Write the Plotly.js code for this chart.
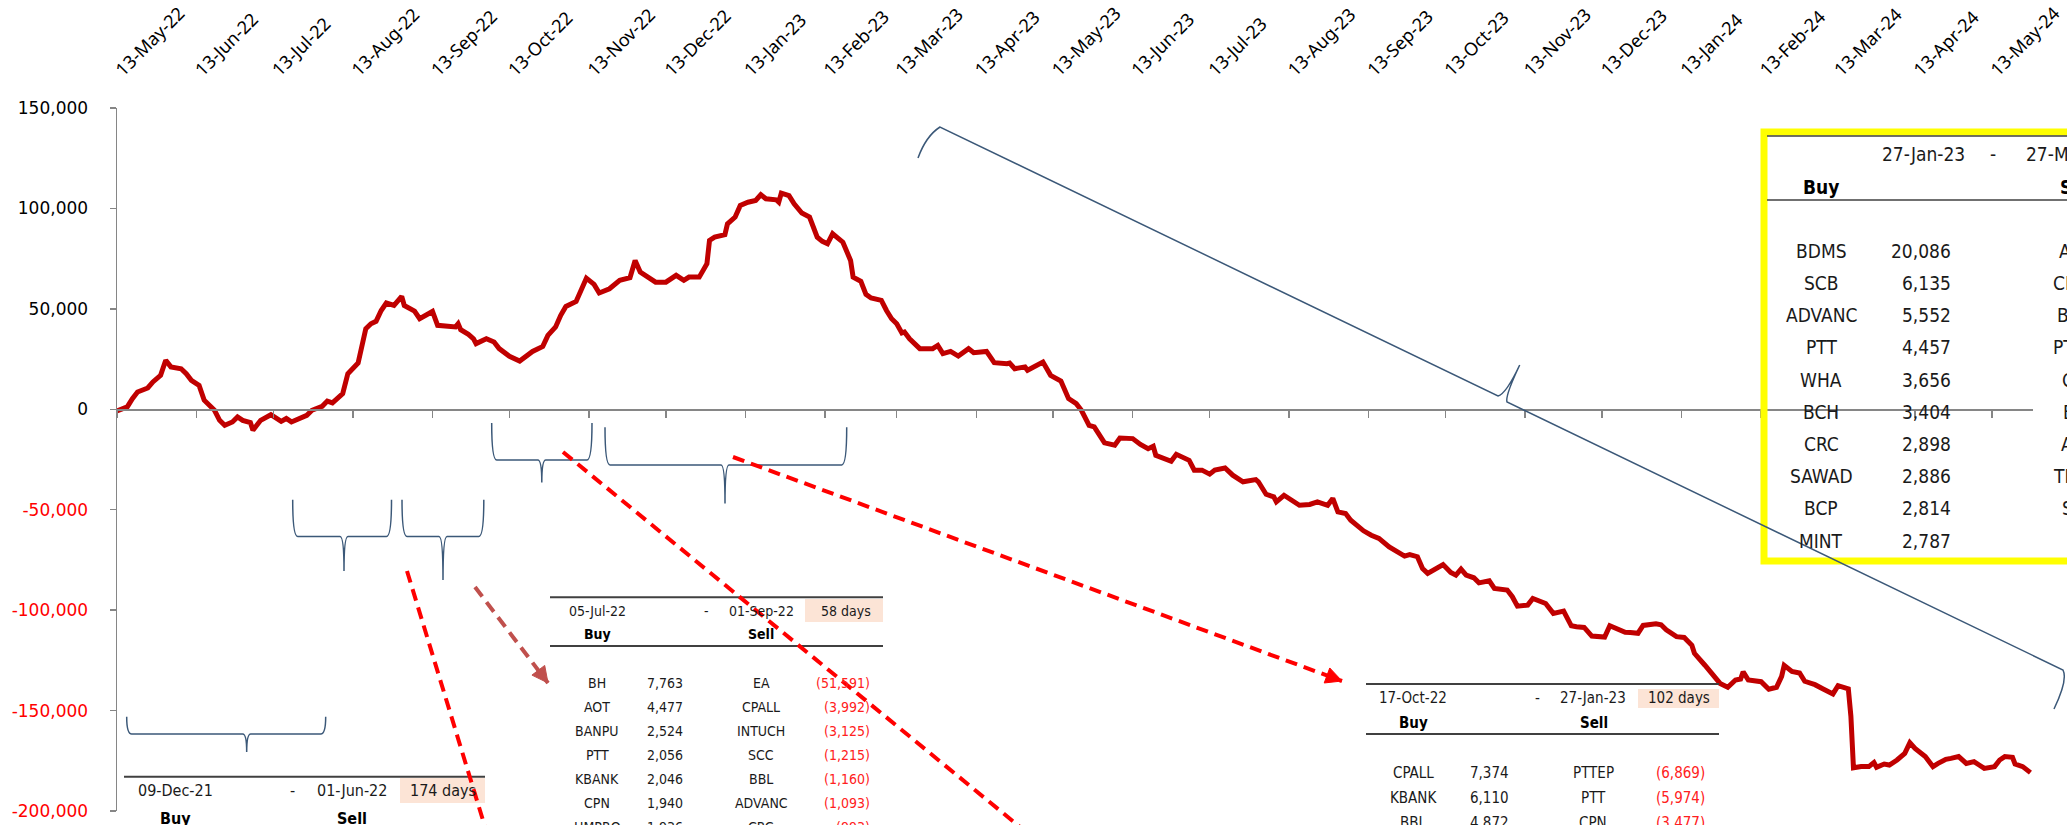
<!DOCTYPE html>
<html>
<head>
<meta charset="utf-8">
<script src="https://cdn.plot.ly/plotly-3.0.1.min.js"></script>
<style>html,body{margin:0;padding:0;background:#fff;}#chart{width:2067px;height:825px;}</style>
</head>
<body>
<div id="chart"></div>
<script>
// ---------------- DATA ----------------
const dates = ["2022-05-13","2022-05-17","2022-05-19","2022-05-21","2022-05-25","2022-05-27","2022-05-30","2022-06-01","2022-06-03","2022-06-07","2022-06-09","2022-06-11","2022-06-14","2022-06-16","2022-06-20","2022-06-22","2022-06-24","2022-06-27","2022-06-29","2022-07-01","2022-07-04","2022-07-05","2022-07-08","2022-07-12","2022-07-16","2022-07-18","2022-07-20","2022-07-22","2022-07-26","2022-07-28","2022-08-01","2022-08-03","2022-08-05","2022-08-09","2022-08-11","2022-08-15","2022-08-18","2022-08-20","2022-08-22","2022-08-24","2022-08-26","2022-08-29","2022-09-01","2022-09-02","2022-09-06","2022-09-08","2022-09-13","2022-09-15","2022-09-22","2022-09-23","2022-09-24","2022-09-27","2022-09-29","2022-09-30","2022-10-04","2022-10-07","2022-10-09","2022-10-13","2022-10-17","2022-10-22","2022-10-26","2022-10-28","2022-10-31","2022-11-02","2022-11-04","2022-11-08","2022-11-10","2022-11-12","2022-11-15","2022-11-17","2022-11-21","2022-11-25","2022-11-29","2022-12-01","2022-12-03","2022-12-07","2022-12-09","2022-12-13","2022-12-17","2022-12-20","2022-12-22","2022-12-26","2022-12-29","2022-12-30","2023-01-01","2023-01-05","2023-01-06","2023-01-09","2023-01-11","2023-01-14","2023-01-17","2023-01-19","2023-01-21","2023-01-25","2023-01-26","2023-01-27","2023-01-30","2023-02-01","2023-02-04","2023-02-07","2023-02-10","2023-02-12","2023-02-14","2023-02-16","2023-02-20","2023-02-23","2023-02-24","2023-02-27","2023-03-01","2023-03-03","2023-03-07","2023-03-09","2023-03-11","2023-03-13","2023-03-15","2023-03-16","2023-03-18","2023-03-22","2023-03-27","2023-03-29","2023-03-31","2023-04-03","2023-04-06","2023-04-10","2023-04-12","2023-04-17","2023-04-20","2023-04-25","2023-04-26","2023-04-28","2023-05-02","2023-05-03","2023-05-09","2023-05-12","2023-05-16","2023-05-19","2023-05-22","2023-05-24","2023-05-27","2023-05-29","2023-06-02","2023-06-06","2023-06-08","2023-06-13","2023-06-16","2023-06-19","2023-06-21","2023-06-22","2023-06-25","2023-06-28","2023-06-30","2023-07-05","2023-07-07","2023-07-10","2023-07-13","2023-07-15","2023-07-19","2023-07-22","2023-07-26","2023-07-31","2023-08-01","2023-08-04","2023-08-07","2023-08-08","2023-08-11","2023-08-15","2023-08-17","2023-08-21","2023-08-24","2023-08-28","2023-08-30","2023-09-01","2023-09-04","2023-09-06","2023-09-11","2023-09-14","2023-09-17","2023-09-21","2023-09-25","2023-09-27","2023-09-29","2023-10-02","2023-10-04","2023-10-06","2023-10-12","2023-10-15","2023-10-17","2023-10-19","2023-10-21","2023-10-24","2023-10-26","2023-10-30","2023-11-01","2023-11-06","2023-11-08","2023-11-10","2023-11-14","2023-11-16","2023-11-21","2023-11-24","2023-11-28","2023-12-01","2023-12-03","2023-12-06","2023-12-09","2023-12-14","2023-12-16","2023-12-19","2023-12-22","2023-12-24","2023-12-27","2023-12-29","2024-01-03","2024-01-05","2024-01-07","2024-01-11","2024-01-14","2024-01-17","2024-01-18","2024-01-22","2024-01-26","2024-01-28","2024-01-31","2024-02-03","2024-02-05","2024-02-06","2024-02-08","2024-02-13","2024-02-16","2024-02-19","2024-02-21","2024-02-22","2024-02-25","2024-02-28","2024-03-01","2024-03-05","2024-03-08","2024-03-12","2024-03-14","2024-03-16","2024-03-18","2024-03-19","2024-03-20","2024-03-23","2024-03-26","2024-03-28","2024-03-29","2024-04-01","2024-04-03","2024-04-06","2024-04-09","2024-04-11","2024-04-13","2024-04-17","2024-04-20","2024-04-22","2024-04-25","2024-04-27","2024-04-30","2024-05-03","2024-05-06","2024-05-08","2024-05-10","2024-05-14","2024-05-16","2024-05-18","2024-05-21","2024-05-22","2024-05-25","2024-05-28"];
const netValues = [-800,1200,5300,8600,10600,13600,16900,24400,21100,20200,17700,14400,11900,4500,-500,-5500,-8000,-6300,-3800,-5500,-6600,-10400,-5500,-2700,-6000,-4600,-6300,-5000,-3000,-500,1500,4100,3200,7800,17700,23000,40100,42600,43800,49200,52900,51700,56200,51700,48900,45100,48700,41800,41000,42600,39600,37300,35100,32700,35100,33500,30200,26400,24000,28800,31300,36800,41000,46800,51200,53700,59200,65300,62200,57900,60000,64200,65500,74100,68300,65000,63300,63300,66700,64200,65800,65800,72500,84100,85700,86900,92300,95700,101500,103100,104000,106800,104800,104300,103100,107600,106400,102300,97700,95700,85700,83600,82400,87400,83200,74100,65800,63700,57200,55400,54200,49200,45100,42600,38000,38500,35100,30200,30200,31800,27700,28800,26500,30200,28200,28800,23200,22700,23000,20200,21100,19400,23500,16900,14100,5300,2800,-500,-8000,-8800,-16700,-17900,-14300,-14600,-17500,-19600,-18400,-22900,-24200,-25900,-22400,-25400,-30300,-30300,-32300,-30300,-29200,-32800,-36100,-35000,-36100,-42300,-43600,-46100,-42800,-46600,-47800,-47400,-46100,-47800,-44400,-51100,-51900,-55200,-60500,-62700,-64300,-68500,-71800,-73100,-72300,-73400,-79300,-81700,-77300,-81200,-82600,-79600,-82600,-83900,-86400,-85400,-89200,-90000,-93300,-98000,-97500,-94200,-96700,-101600,-100500,-107800,-108300,-108600,-112900,-113400,-107800,-109600,-111000,-111100,-111500,-107600,-106800,-107300,-109800,-113200,-113600,-117500,-121500,-127300,-134000,-136500,-138400,-134800,-134300,-130700,-134800,-135600,-139400,-138400,-133000,-127500,-130500,-131300,-135400,-137100,-139100,-141700,-137600,-138200,-139200,-152800,-178500,-177900,-177900,-175900,-178200,-176600,-177100,-174600,-171300,-166000,-168800,-172900,-177900,-176300,-174300,-173800,-172900,-176300,-175400,-177100,-178800,-177900,-174600,-172900,-173300,-176600,-177900,-180900];

const yTickVals = [-200000,-150000,-100000,-50000,0,50000,100000,150000];

// Table 1 (09-Dec-21 - 01-Jun-22)
const t1Header = ["09-Dec-21","-","01-Jun-22","174 days"];
// Table 2 (05-Jul-22 - 01-Sep-22)
const t2Header = ["05-Jul-22","-","01-Sep-22","58 days"];
const t2BuyNames = ["BH","AOT","BANPU","PTT","KBANK","CPN","HMPRO"];
const t2BuyVals = [7763,4477,2524,2056,2046,1940,1936];
const t2SellNames = ["EA","CPALL","INTUCH","SCC","BBL","ADVANC","CRC"];
const t2SellVals = [-51591,-3992,-3125,-1215,-1160,-1093,-993];
// Table 3 (17-Oct-22 - 27-Jan-23)
const t3Header = ["17-Oct-22","-","27-Jan-23","102 days"];
const t3BuyNames = ["CPALL","KBANK","BBL"];
const t3BuyVals = [7374,6110,4872];
const t3SellNames = ["PTTEP","PTT","CPN"];
const t3SellVals = [-6869,-5974,-3477];
// Table 4 (27-Jan-23 - 27-Mar-23)
const t4Header = ["27-Jan-23","-","27-Mar-23"];
const t4BuyNames = ["BDMS","SCB","ADVANC","PTT","WHA","BCH","CRC","SAWAD","BCP","MINT"];
const t4BuyVals = [20086,6135,5552,4457,3656,3404,2898,2886,2814,2787];
const t4SellNames = ["AWC","CPALL","BSRC","PTTEP","CPN","BBL","AOT","TISCO","SCC","IVL"];

// ---------------- GEOMETRY HELPERS (overlay decorations) ----------------
const W = 2067, H = 825;
const mL = 117, mR = 34, mT = 108, mB = 14;
const PW = W - mL - mR, PH = H - mT - mB;
const P = x => (x - mL) / PW;
const Q = y => (H - mB - y) / PH;
const pt = (x, y) => P(x).toFixed(5) + ',' + Q(y).toFixed(5);

const fmt = v => Math.abs(v).toLocaleString('en-US');
const fmtNeg = v => v < 0 ? '(' + fmt(v) + ')' : fmt(v);
const FT = 'Tahoma, "DejaVu Sans Condensed", "DejaVu Sans", sans-serif';

const annotations = [];
const shapes = [];
function T(x, y, text, size, anchor, color, bold) {
  annotations.push({xref:'paper', yref:'paper', x:P(x), y:Q(y), text: bold ? '<b>' + text + '</b>' : text,
    showarrow:false, xanchor:anchor, yanchor:'middle', borderpad:0,
    font:{family:FT, size:size, color:color || '#1a1a1a'}});
}
function hline(x0, x1, y, w, c) {
  shapes.push({type:'line', xref:'paper', yref:'paper', x0:P(x0), x1:P(x1), y0:Q(y), y1:Q(y), line:{color:c || '#404040', width:w || 1.5}});
}
function rect(x0, y0, x1, y1, fill, lc, lw) {
  shapes.push({type:'rect', xref:'paper', yref:'paper', x0:P(x0), x1:P(x1), y0:Q(y0), y1:Q(y1), fillcolor:fill || 'rgba(0,0,0,0)', line:{color:lc || 'rgba(0,0,0,0)', width:lw || 0}, layer:'below'});
}
const BR = '#3B5878';
function brace(x1, x2, yTop, yMid, tipX, tipY) {
  const r = 5, s = 4;
  const d = 'M' + pt(x1, yTop) + ' Q' + pt(x1, yMid) + ' ' + pt(x1 + r, yMid) +
    ' L' + pt(tipX - s, yMid) + ' Q' + pt(tipX, yMid) + ' ' + pt(tipX, tipY) +
    ' Q' + pt(tipX, yMid) + ' ' + pt(tipX + s, yMid) +
    ' L' + pt(x2 - r, yMid) + ' Q' + pt(x2, yMid) + ' ' + pt(x2, yTop);
  shapes.push({type:'path', xref:'paper', yref:'paper', path:d, line:{color:BR, width:1.5}});
}
function dashed(x0, y0, x1, y1, color, head) {
  shapes.push({type:'line', xref:'paper', yref:'paper', x0:P(x0), y0:Q(y0), x1:P(x1), y1:Q(y1), line:{color:color, width:4, dash:'12px,7px'}});
  if (head) {
    const dx = x1 - x0, dy = y1 - y0, L = Math.hypot(dx, dy), ux = dx / L, uy = dy / L;
    const hl = 16, hw = 8;
    const bx = x1 - ux * hl, by = y1 - uy * hl;
    const d = 'M' + pt(x1, y1) + ' L' + pt(bx - uy * hw, by + ux * hw) + ' L' + pt(bx + uy * hw, by - ux * hw) + ' Z';
    shapes.push({type:'path', xref:'paper', yref:'paper', path:d, fillcolor:color, line:{color:color, width:1}});
  }
}

// ---- Table 1 ----
rect(400, 778, 485, 803, '#FCE4D6');
hline(124, 485, 776.7, 2);
T(175, 790, t1Header[0], 16, 'center');
T(292, 790, t1Header[1], 16, 'center');
T(352, 790, t1Header[2], 16, 'center');
T(443, 790, t1Header[3], 16, 'center');
T(175, 818, 'Buy', 16, 'center', '#000', true);
T(352, 818, 'Sell', 16, 'center', '#000', true);

// ---- Table 2 ----
rect(805, 599, 883, 622, '#FCE4D6');
hline(550, 883, 597.3, 2);
hline(550, 883, 646, 2);
T(597, 611, t2Header[0], 14, 'center');
T(706, 611, t2Header[1], 14, 'center');
T(761, 611, t2Header[2], 14, 'center');
T(846, 611, t2Header[3], 14, 'center');
T(597, 634, 'Buy', 14, 'center', '#000', true);
T(761, 634, 'Sell', 14, 'center', '#000', true);
t2BuyNames.forEach((n, i) => {
  const y = 683.3 + i * 23.9;
  T(597, y, n, 14, 'center');
  T(684, y, fmt(t2BuyVals[i]), 14, 'right');
  T(761, y, t2SellNames[i], 14, 'center');
  T(871, y, fmtNeg(t2SellVals[i]), 14, 'right', '#FF2020');
});

// ---- Table 3 ----
rect(1638, 689, 1719, 708, '#FCE4D6');
hline(1366, 1719, 684, 2);
hline(1366, 1719, 734, 2);
T(1413, 698, t3Header[0], 15, 'center');
T(1537, 698, t3Header[1], 15, 'center');
T(1593, 698, t3Header[2], 15, 'center');
T(1679, 698, t3Header[3], 15, 'center');
T(1413, 723, 'Buy', 15, 'center', '#000', true);
T(1594, 723, 'Sell', 15, 'center', '#000', true);
t3BuyNames.forEach((n, i) => {
  const y = 773 + i * 25;
  T(1413, y, n, 15, 'center');
  T(1510, y, fmt(t3BuyVals[i]), 15, 'right');
  T(1593, y, t3SellNames[i], 15, 'center');
  T(1706, y, fmtNeg(t3SellVals[i]), 15, 'right', '#FF2020');
});

// ---- Table 4 (yellow box) ----
shapes.push({type:'rect', xref:'paper', yref:'paper', x0:P(1764), x1:P(2110), y0:Q(132), y1:Q(561), line:{color:'#FFFF00', width:7}, fillcolor:'rgba(0,0,0,0)'});
hline(1767, 2110, 136, 1.5);
hline(1767, 2110, 200, 1.5);
T(1923, 154, t4Header[0], 19, 'center');
T(1993, 154, t4Header[1], 19, 'center');
T(2025, 154, t4Header[2], 19, 'left');
T(1821, 187, 'Buy', 19, 'center', '#000', true);
T(2078, 187, 'Sell', 19, 'center', '#000', true);
t4BuyNames.forEach((n, i) => {
  const y = 250.7 + i * 32.2;
  T(1821, y, n, 19, 'center');
  T(1952, y, fmt(t4BuyVals[i]), 19, 'right');
  T(2079, y, t4SellNames[i], 19, 'center');
});

// ---- braces ----
brace(126.7, 325.7, 716.7, 734, 246.7, 752);
brace(292.7, 391.5, 499.7, 536.5, 344, 571);
brace(402, 483.8, 499.7, 536.5, 443, 580);
brace(491.7, 592, 423, 460, 541.8, 482.5);
brace(605, 846.7, 427.3, 465, 725, 503.6);
// big diagonal brace
(function(){
  const d = 'M' + pt(918, 158) + ' Q' + pt(926, 136) + ' ' + pt(940, 127) +
    ' L' + pt(1498, 396) + ' Q' + pt(1506, 394) + ' ' + pt(1519.7, 365) +
    ' Q' + pt(1505, 396) + ' ' + pt(1507, 402) +
    ' L' + pt(2063, 670) + ' Q' + pt(2068, 680) + ' ' + pt(2054, 709);
  shapes.push({type:'path', xref:'paper', yref:'paper', path:d, line:{color:BR, width:1.5}});
})();

// ---- dashed arrows ----
dashed(407, 571, 489, 840, '#FF0000', false);
dashed(475, 587, 548, 683, '#C0504D', true);
dashed(563, 452, 1020, 827, '#FF0000', false);
dashed(733, 457, 1342, 681, '#FF0000', true);

// ---------------- CHART ----------------
const yTickText = yTickVals.map(v => v < 0 ? '<span style="color:#FF0000">-' + fmt(v) + '</span>' : fmt(v));
const xRange = ['2022-05-13', '2024-05-29'];

const traces = [
  {x: dates, y: netValues, type:'scatter', mode:'lines', line:{color:'#C00000', width:5}, hoverinfo:'skip', showlegend:false},
  {x: dates, y: netValues, xaxis:'x2', type:'scatter', mode:'lines', line:{color:'rgba(0,0,0,0)', width:0}, hoverinfo:'skip', showlegend:false}
];

const layout = {
  width: W, height: H,
  margin: {l: mL, r: mR, t: mT, b: mB, pad: 0},
  paper_bgcolor: '#fff', plot_bgcolor: 'rgba(0,0,0,0)',
  showlegend: false,
  xaxis: {
    type:'date', range:xRange, side:'top', anchor:'y',
    tickformat:'%d-%b-%y', dtick:'M1', tick0:'2022-05-13', tickangle:-45,
    ticks:'outside', ticklen:20, tickcolor:'rgba(0,0,0,0)',
    showline:false, showgrid:false, zeroline:false,
    tickfont:{family:'"Noto Sans", sans-serif', size:18, color:'#000'}
  },
  xaxis2: {
    type:'date', range:xRange, overlaying:'x', anchor:'free', position:200000/350000, side:'bottom',
    dtick:'M1', tick0:'2022-05-13', ticks:'outside', ticklen:7, tickcolor:'#868686', tickwidth:1.5,
    showticklabels:false, showline:true, linecolor:'#868686', linewidth:1.5, showgrid:false, zeroline:false
  },
  yaxis: {
    range:[-200000, 150000], tickvals:yTickVals, ticktext:yTickText,
    showline:true, linecolor:'#868686', linewidth:1.5, ticks:'outside', ticklen:6, tickcolor:'#868686', tickwidth:1.5,
    showgrid:false, zeroline:false, ticklabelstandoff:18,
    tickfont:{family:'"DejaVu Sans", sans-serif', size:17, color:'#000'}
  },
  shapes: shapes,
  annotations: annotations
};

Plotly.newPlot('chart', traces, layout, {staticPlot:true, displayModeBar:false});
</script>
</body>
</html>
